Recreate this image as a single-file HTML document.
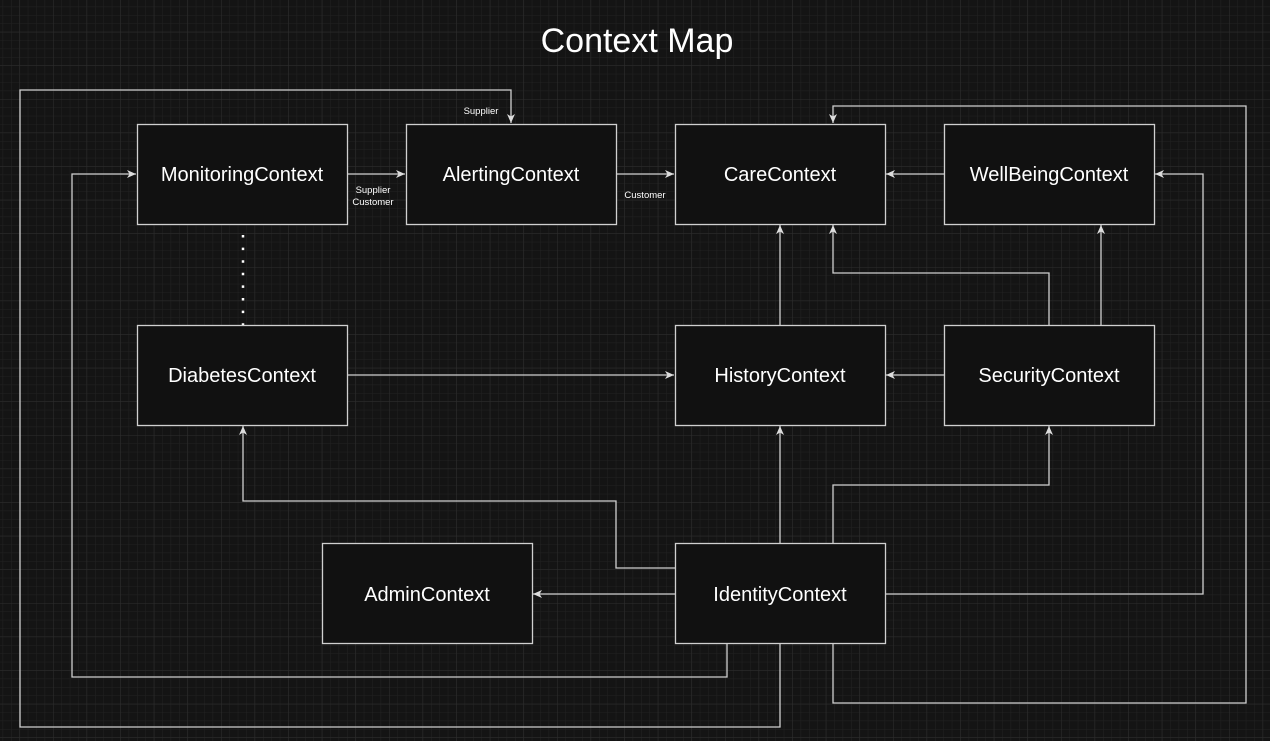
<!DOCTYPE html>
<html><head><meta charset="utf-8"><style>
html,body{margin:0;padding:0;background:#141414;}
svg{display:block;}
text{font-family:"Liberation Sans",Arial,sans-serif;fill:#fff;}
</style></head><body>
<svg width="1270" height="741" viewBox="0 0 1270 741" xmlns="http://www.w3.org/2000/svg">
<defs>
<pattern id="minor" x="221" y="267" width="8.4" height="8.4" patternUnits="userSpaceOnUse">
<path d="M0 0H8.4M0 0V8.4" stroke="#222" stroke-width="1" fill="none"/>
</pattern>
<pattern id="major" x="221" y="267" width="33.6" height="33.6" patternUnits="userSpaceOnUse">
<path d="M0 0H33.6M0 0V33.6" stroke="#2e2e2e" stroke-width="1" fill="none"/>
</pattern>
<marker id="a" markerWidth="12" markerHeight="12" refX="9" refY="6" orient="auto" markerUnits="userSpaceOnUse">
<path d="M0 2L9 6L0 10L2.5 6Z" fill="#ddd"/>
</marker>
</defs>
<rect width="1270" height="741" fill="#141414"/>
<rect width="1270" height="741" fill="url(#minor)"/>
<rect width="1270" height="741" fill="url(#major)"/>
<text x="637" y="52" font-size="34" text-anchor="middle">Context Map</text>
<g fill="none" stroke="#cfcfcf" stroke-width="1.3">
<path d="M347 174H405" marker-end="url(#a)"/>
<path d="M616 174H674" marker-end="url(#a)"/>
<path d="M944 174H886" marker-end="url(#a)"/>
<path d="M780 643V727H20V90H511V123" marker-end="url(#a)"/>
<path d="M727 643V677H72V174H136" marker-end="url(#a)"/>
<path d="M833 643V703H1246V106H833V123" marker-end="url(#a)"/>
<path d="M885 594H1203V174H1155" marker-end="url(#a)"/>
<path d="M675 594H533" marker-end="url(#a)"/>
<path d="M675 568H616V501H243V426" marker-end="url(#a)"/>
<path d="M780 543V426" marker-end="url(#a)"/>
<path d="M833 543V485H1049V426" marker-end="url(#a)"/>
<path d="M780 325V225" marker-end="url(#a)"/>
<path d="M944 375H886" marker-end="url(#a)"/>
<path d="M1049 325V273H833V225" marker-end="url(#a)"/>
<path d="M1101 325V225" marker-end="url(#a)"/>
<path d="M347 375H674" marker-end="url(#a)"/>
</g>
<path d="M243 235V325" stroke="#fff" stroke-width="2.5" stroke-dasharray="2.5 10.1" fill="none"/>
<g fill="#111" stroke="#d0d0d0" stroke-width="1.3">
<rect x="137.5" y="124.5" width="210" height="100"/>
<rect x="406.5" y="124.5" width="210" height="100"/>
<rect x="675.5" y="124.5" width="210" height="100"/>
<rect x="944.5" y="124.5" width="210" height="100"/>
<rect x="137.5" y="325.5" width="210" height="100"/>
<rect x="675.5" y="325.5" width="210" height="100"/>
<rect x="944.5" y="325.5" width="210" height="100"/>
<rect x="322.5" y="543.5" width="210" height="100"/>
<rect x="675.5" y="543.5" width="210" height="100"/>
</g>
<g font-size="20" text-anchor="middle">
<text x="242" y="181">MonitoringContext</text>
<text x="511" y="181">AlertingContext</text>
<text x="780" y="181">CareContext</text>
<text x="1049" y="181">WellBeingContext</text>
<text x="242" y="382">DiabetesContext</text>
<text x="780" y="382">HistoryContext</text>
<text x="1049" y="382">SecurityContext</text>
<text x="427" y="601">AdminContext</text>
<text x="780" y="601">IdentityContext</text>
</g>
<g font-size="9.5" text-anchor="middle">
<text x="373" y="193">Supplier</text>
<text x="373" y="205">Customer</text>
<text x="645" y="198">Customer</text>
<text x="481" y="114">Supplier</text>
</g>
</svg>
</body></html>
